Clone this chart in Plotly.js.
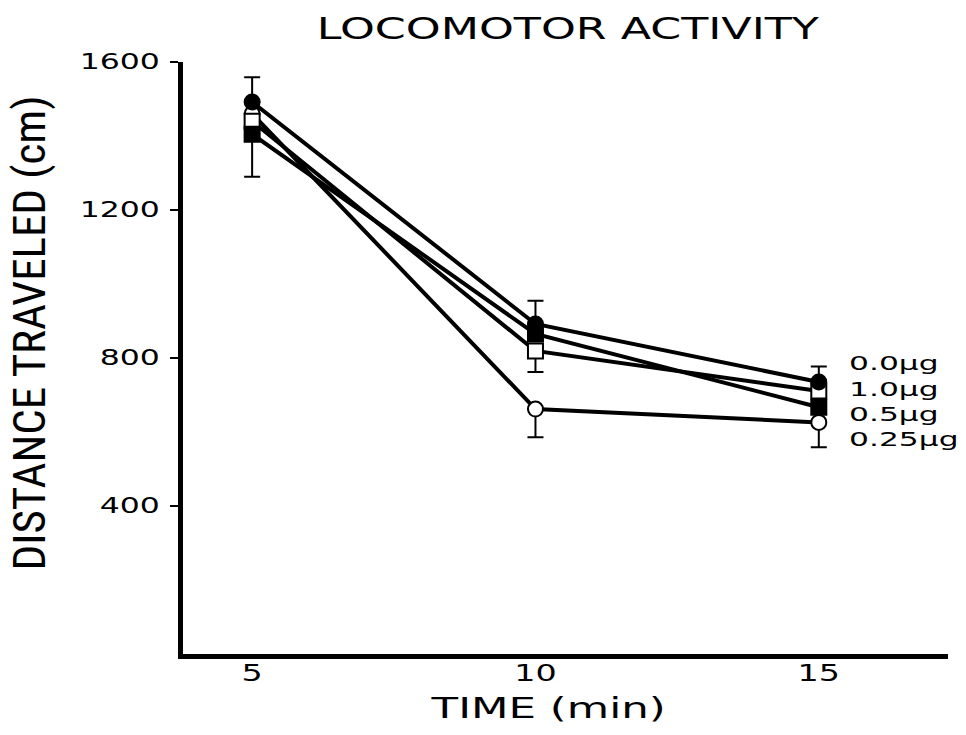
<!DOCTYPE html>
<html>
<head>
<meta charset="utf-8">
<script src="https://cdn.plot.ly/plotly-3.0.1.min.js"></script>
<style>
html, body { margin: 0; padding: 0; background: #fff; }
#chart { width: 966px; height: 735px; }
g.ytick { transform-box: fill-box; transform-origin: right center; transform: scaleX(1.5); }
g.xtick { transform-box: fill-box; transform-origin: center; transform: scaleX(1.45); }
g.g-gtitle { transform-box: fill-box; transform-origin: center; transform: scaleX(1.43); }
g.g-xtitle { transform-box: fill-box; transform-origin: center; transform: translateX(-17px) scaleX(1.5); }
g.g-ytitle { transform: translateY(-25px); }
text.annotation-text { transform-box: fill-box; transform-origin: left center; transform: scaleX(1.65); }
.ytitle { font-stretch: condensed; }
</style>
</head>
<body>
<div id="chart"></div>
<script>
// Time points (min)
const times = [5, 10, 15];

// Series labels
const doseLabels = ["0.0\u00b5g", "1.0\u00b5g", "0.5\u00b5g", "0.25\u00b5g"];

// Distance travelled (cm) per dose
const dose00 = [1492, 892, 735];
const dose10 = [1440, 819, 711];
const dose05 = [1405, 865, 667];
const dose025 = [1460, 662, 626];

// Error bars (cm): upper and lower parts as shown in the figure
const dose00ErrUp = [67, 63, 42];
const dose00ErrDown = [0, 0, 0];
const dose10ErrUp = [0, 0, 0];
const dose10ErrDown = [0, 57, 0];
const dose05ErrUp = [0, 0, 0];
const dose05ErrDown = [115, 0, 0];
const dose025ErrUp = [0, 0, 0];
const dose025ErrDown = [0, 76, 67];

// Label positions next to the last point
const labelY = [786, 716, 650, 580];

// Axis ticks
const yTicks = [400, 800, 1200, 1600];
const xTicks = [5, 10, 15];

function trace(y, up, down, symbol, fill, name) {
  return {
    x: times, y: y, name: name, type: 'scatter', mode: 'lines+markers',
    line: { color: '#000', width: 4 },
    marker: { symbol: symbol, size: 15, color: fill, line: { color: '#000', width: 2 } },
    error_y: { type: 'data', symmetric: false, array: up, arrayminus: down,
               color: '#000', thickness: 2, width: 8 },
    cliponaxis: false
  };
}

const data = [
  trace(dose025, dose025ErrUp, dose025ErrDown, 'circle', '#fff', doseLabels[3]),
  trace(dose10, dose10ErrUp, dose10ErrDown, 'square', '#fff', doseLabels[1]),
  trace(dose05, dose05ErrUp, dose05ErrDown, 'square', '#000', doseLabels[2]),
  trace(dose00, dose00ErrUp, dose00ErrDown, 'circle', '#000', doseLabels[0])
];

const annotations = doseLabels.map((t, i) => ({
  text: t, x: 15.5, y: labelY[i], xref: 'x', yref: 'y',
  xanchor: 'left', yanchor: 'middle', showarrow: false,
  font: { family: 'DejaVu Sans', size: 19, color: '#000' }
}));

const condensed = '"Roboto Condensed", "DejaVu Sans Condensed", "Liberation Sans Narrow", "Arial Narrow", "Noto Sans", sans-serif';

const layout = {
  width: 966, height: 735,
  margin: { l: 183, r: 18, t: 62, b: 81 },
  paper_bgcolor: '#fff', plot_bgcolor: '#fff',
  showlegend: false,
  title: {
    text: 'LOCOMOTOR ACTIVITY',
    font: { family: 'DejaVu Sans', size: 31, color: '#000', weight: 500 },
    x: 0.588, xanchor: 'center', y: 0.962, yanchor: 'middle'
  },
  xaxis: {
    range: [3.78, 17.28],
    tickvals: xTicks, ticktext: xTicks.map(String),
    ticks: '', showgrid: false, zeroline: false,
    showline: true, linecolor: '#000', linewidth: 5,
    tickfont: { family: 'DejaVu Sans', size: 23, color: '#000' },
    ticklabelstandoff: -6,
    title: { text: 'TIME (min)', font: { family: 'DejaVu Sans', size: 29, color: '#000' }, standoff: 14 }
  },
  yaxis: {
    range: [0, 1600],
    tickvals: yTicks, ticktext: yTicks.map(String),
    ticks: 'outside', ticklen: 8, tickwidth: 2, tickcolor: '#000',
    showgrid: false, zeroline: false,
    showline: true, linecolor: '#000', linewidth: 5,
    tickfont: { family: 'DejaVu Sans', size: 21, color: '#000' },
    ticklabelstandoff: 6,
    title: { text: 'DISTANCE TRAVELED (cm)', font: { family: condensed, size: 45, color: '#000' }, standoff: 21 }
  },
  annotations: annotations
};

Plotly.newPlot('chart', data, layout, { displayModeBar: false, staticPlot: true });
</script>
</body>
</html>
